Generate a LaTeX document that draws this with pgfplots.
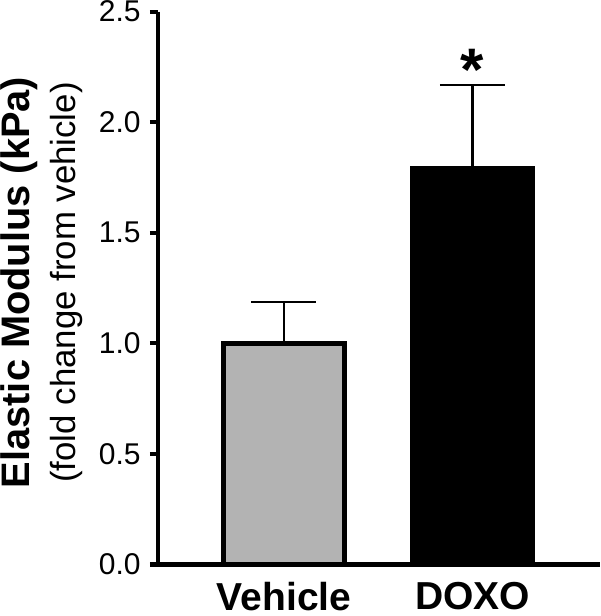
\documentclass[border=0pt]{standalone}
\usepackage{fontspec}
\setmainfont{Liberation Sans}
\usepackage{pgfplots}
\pgfplotsset{compat=1.18}
\definecolor{vehgray}{RGB}{179,179,179}
\begin{document}
\begin{tikzpicture}
\path[use as bounding box] (-79pt,-25.75pt) rectangle (221pt,282.25pt);
\begin{axis}[
  at={(0,0)}, anchor=south west,
  scale only axis, width=221pt, height=276.5pt,
  xmin=0.3316, xmax=2.6764, ymin=0, ymax=2.5,
  axis x line=bottom, axis y line=left,
  axis line style={line width=2.2pt, -},
  xtick={1,2}, xticklabels={Vehicle,DOXO},
  x tick style={draw=none},
  xticklabel style={font=\bfseries\fontsize{19.5}{22}\selectfont, inner sep=0pt, yshift=-4.8pt},
  ytick={0,0.5,1,1.5,2,2.5},
  tick align=outside, major tick length=4pt,
  major tick style={line width=2pt, black},
  yticklabel style={font=\fontsize{15}{17}\selectfont, xshift=-1.2pt,
    /pgf/number format/.cd, fixed, fixed zerofill, precision=1, assume math mode=true},
  ylabel={{\bfseries\fontsize{19.9}{23}\selectfont Elastic Modulus (kPa)}\\{\fontsize{17.4}{23}\selectfont (fold change from vehicle)}},
  ylabel style={align=center, at={(rel axis cs:-0.3575,0.51)}, anchor=north, inner sep=0pt, font=\fontsize{17.4}{23}\selectfont},
  clip=false,
]
\addplot[ybar, bar shift=0pt, bar width=0.642, fill=vehgray, draw=black, line width=2.2pt,
  error bars/.cd, y dir=plus, y explicit, error mark=|,
  error bar style={line width=1.2pt, black},
  error mark options={line width=1pt, mark size=16.25pt, black}]
  coordinates {(1,1.0) +- (0,0.187)};
\addplot[ybar, bar shift=0pt, bar width=0.642, fill=black, draw=black, line width=2.2pt,
  error bars/.cd, y dir=plus, y explicit, error mark=|,
  error bar style={line width=1.2pt, black},
  error mark options={line width=1pt, mark size=16.25pt, black}]
  coordinates {(2,1.79) +- (0,0.378)};
\draw[line width=2.2pt, line cap=butt] (rel axis cs:0,1) -- (rel axis cs:0,0);
\draw[line width=2.2pt, line cap=butt] ([xshift=-4pt]rel axis cs:0,0) -- (rel axis cs:1,0);
\node[anchor=north, inner sep=0pt, font=\bfseries\fontsize{30}{30}\selectfont] at (axis cs:2,2.33) {*};
\end{axis}
\end{tikzpicture}
\end{document}
